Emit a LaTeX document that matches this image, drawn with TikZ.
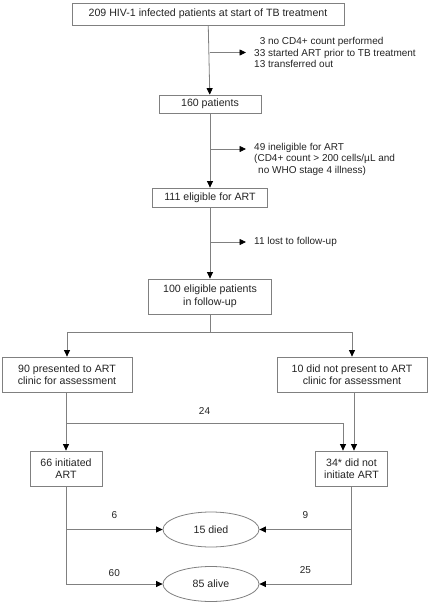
\documentclass[tikz,border=0pt]{standalone}
\usepackage{fontspec}
\setmainfont{Liberation Sans}
\usepackage{tikz}
\usetikzlibrary{arrows.meta,shapes.geometric}
\definecolor{linegray}{RGB}{128,128,128}
\definecolor{textgray}{RGB}{35,35,35}
\tikzstyle{stage} = [draw=linegray, thick, rectangle, align=center, text=textgray, font=\fontsize{10.6}{12.5}\selectfont, inner sep=1pt]
\tikzstyle{outcome} = [draw=linegray, thick, ellipse, align=center, text=textgray, font=\fontsize{10.6}{12.5}\selectfont, minimum width=96pt, minimum height=35pt]
\tikzstyle{note} = [align=left, text=textgray, font=\fontsize{10}{11.5}\selectfont, inner sep=0pt]
\tikzstyle{count} = [text=textgray, font=\fontsize{10}{11}\selectfont, inner sep=0pt]
\tikzstyle{flow} = [draw=linegray, thick, -{Triangle[length=6.5pt,width=6pt,color=black]}]

\begin{document}
\begin{tikzpicture}[x=1pt, y=-1pt]
    \useasboundingbox (0,0) rectangle (430,605);
    \node[stage, minimum width=272pt, minimum height=22pt] (start) at (208,14) {209 HIV-1 infected patients at start of TB treatment};
    \node[stage, minimum width=102pt, minimum height=18pt] (p160) at (210,104) {160 patients};
    \node[stage, minimum width=115pt, minimum height=19pt] (elig) at (210,197.5) {111 eligible for ART};
    \node[stage, minimum width=123pt, minimum height=35pt] (follow) at (210,296.5) {100 eligible patients\\in follow-up};
    \node[stage, minimum width=130pt, minimum height=35pt] (pres) at (67,374.5) {90 presented to ART\\clinic for assessment};
    \node[stage, minimum width=150pt, minimum height=35pt] (notpres) at (352,374.5) {10 did not present to ART\\clinic for assessment};
    \node[stage, minimum width=72pt, minimum height=35pt] (init) at (66,468.5) {66 initiated\\ART};
    \node[stage, minimum width=72pt, minimum height=35pt] (notinit) at (351.5,468.5) {34* did not\\initiate ART};
    \node[outcome] (died) at (211,529.5) {15 died};
    \node[outcome] (alive) at (211,584) {85 alive};
    % exclusions
    \node[note, anchor=west] (excl1) at (254,52.5) {\hphantom{3}3 no CD4+ count performed\\33 started ART prior to TB treatment\\13 transferred out};
    \node[note, anchor=north west] (excl2) at (254,143) {49 ineligible for ART\\(CD4+ count > 200 cells/µL and\\\hspace*{4pt}no WHO stage 4 illness)};
    \node[note, anchor=west] (excl3) at (254,242) {11 lost to follow-up};
    \coordinate (b1) at (210,52.5);
    \coordinate (b2) at (210,149);
    \coordinate (b3) at (210,242);
    \coordinate (split) at (210,332);
    \coordinate (b24) at (66,423);
    \draw[flow] (start) -- (p160);
    \draw[flow] (p160) -- (elig);
    \draw[flow] (elig) -- (follow);
    \draw[flow, shorten >=8pt] (b1) -- (excl1.west);
    \draw[flow, shorten >=8pt] (b2) -- (b2 -| excl2.west);
    \draw[flow, shorten >=8pt] (b3) -- (excl3.west);
    \draw[draw=linegray, thick] (follow) -- (split);
    \draw[flow] (split) -| (pres.north);
    \draw[flow] (split) -| (notpres.north);
    \draw[flow] (pres.south -| init) -- (init);
    \draw[flow] ([xshift=2pt]notpres.south) -- ([xshift=2.5pt]notinit.north);
    \draw[flow] (b24) -| node[count, pos=0.25, above=8pt] (l24) {24} ([xshift=-8.5pt]notinit.north);
    % outcomes
    \draw[flow] (init.south) |- node[count, pos=0.75, above=7pt] (l60) {60} (alive.west);
    \draw[flow] (init.south |- died.west) -- node[count, above=11pt] (l6) {6} (died.west);
    \draw[flow] (notinit.south) |- node[count, pos=0.75, above=10pt] (l25) {25} (alive.east);
    \draw[flow] (notinit.south |- died.east) -- node[count, above=11pt] (l9) {9} (died.east);
\end{tikzpicture}
\end{document}
